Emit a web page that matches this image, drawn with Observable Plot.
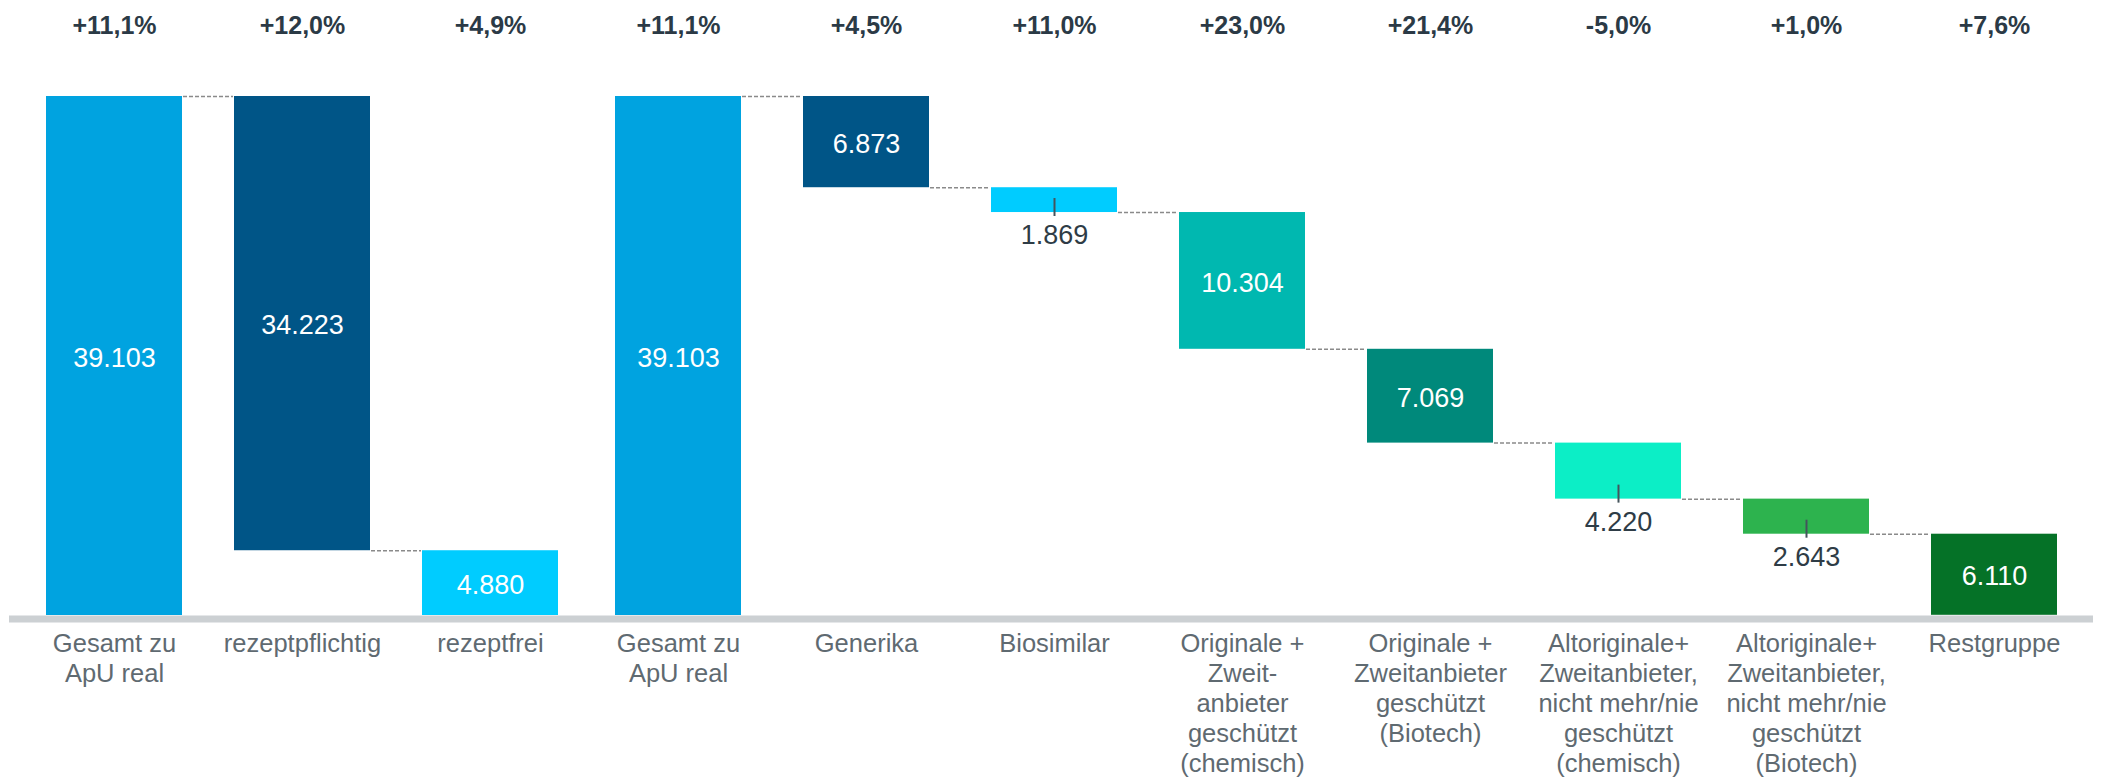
<!DOCTYPE html>
<html><head><meta charset="utf-8">
<script src="https://cdn.jsdelivr.net/npm/d3@7"></script>
<script src="https://cdn.jsdelivr.net/npm/@observablehq/plot@0.6"></script>
<style>html,body{margin:0;padding:0;background:#fff;}</style>
</head><body><div id="chart"></div>
<script>
const categories = [
  "Gesamt zu\nApU real",
  "rezeptpflichtig",
  "rezeptfrei",
  "Gesamt zu\nApU real",
  "Generika",
  "Biosimilar",
  "Originale +\nZweit-\nanbieter\ngeschützt\n(chemisch)",
  "Originale +\nZweitanbieter\ngeschützt\n(Biotech)",
  "Altoriginale+\nZweitanbieter,\nnicht mehr/nie\ngeschützt\n(chemisch)",
  "Altoriginale+\nZweitanbieter,\nnicht mehr/nie\ngeschützt\n(Biotech)",
  "Restgruppe"
];
const values = [39103, 34223, 4880, 39103, 6873, 1869, 10304, 7069, 4220, 2643, 6110];
const isTotal = [true, false, false, true, false, false, false, false, false, false, false];
const changes = ["+11,1%", "+12,0%", "+4,9%", "+11,1%", "+4,5%", "+11,0%", "+23,0%", "+21,4%", "-5,0%", "+1,0%", "+7,6%"];
const barColors = ["#00a3e0", "#005587", "#00ccff", "#00a3e0", "#005587", "#00ccff", "#00b8b0", "#00897b", "#0ceec6", "#2db34e", "#057227"];

const ids = categories.map((_, i) => "c" + i);
let running = 0;
const rows = categories.map((label, i) => {
  const v = values[i];
  let y1, y2;
  if (isTotal[i]) { y1 = 0; y2 = v; running = v; }
  else { y2 = running; y1 = running - v; running = y1; }
  return {idx: i, id: ids[i], label, value: v, y1, y2, change: changes[i], inside: v > 4500};
});
const conns = [];
for (let i = 0; i < rows.length - 1; i++) {
  const level = isTotal[i] ? rows[i].y2 : rows[i].y1;
  if (level > 100) conns.push({idx: i, from: ids[i], to: ids[i + 1], level});
}

const fmt = d3.formatLocale({decimal: ",", thousands: ".", grouping: [3], currency: ["", ""]}).format(",d");

const W = 2101, H = 781;
const margins = {marginTop: 96, marginBottom: 166, marginLeft: 46, marginRight: 38};
const xOpts = {type: "band", domain: ids, paddingInner: 0.328, paddingOuter: 0};
const bw = Plot.scale({x: {...xOpts, range: [margins.marginLeft, W - margins.marginRight]}}).bandwidth;
const wide = 5; // first group of bars is slightly wider
const connStyle = {x1: "from", x2: "to", y: "level", stroke: "#8a8a8a", strokeWidth: 1.5, strokeDasharray: "4,2"};

const chart = Plot.plot({
  width: W, height: H, ...margins,
  style: {fontFamily: "Liberation Sans, Arial, sans-serif", background: "white"},
  x: {...xOpts, axis: null},
  y: {domain: [0, 39103], axis: null},
  color: {type: "ordinal", domain: ids, range: barColors},
  marks: [
    Plot.ruleY(conns.filter(d => d.idx < 2), {...connStyle, insetLeft: bw + wide, insetRight: bw + wide}),
    Plot.ruleY(conns.filter(d => d.idx >= 2), {...connStyle, insetLeft: bw, insetRight: bw}),
    Plot.rectY(rows.filter(d => d.idx < 3), {x: "id", y1: "y1", y2: "y2", fill: "id", insetLeft: -wide, insetRight: -wide}),
    Plot.rectY(rows.filter(d => d.idx >= 3), {x: "id", y1: "y1", y2: "y2", fill: "id"}),
    Plot.ruleY([0], {stroke: "#ccd0d3", strokeWidth: 7, dy: 3.5, insetLeft: -37, insetRight: -30}),
    Plot.ruleX(rows.filter(d => !d.inside), {x: "id", y1: "y1", y2: "y1", insetTop: -14, insetBottom: -4, stroke: "#44545c", strokeWidth: 2}),
    Plot.text(rows.filter(d => d.inside), {x: "id", y: d => (d.y1 + d.y2) / 2, text: d => fmt(d.value), fill: "white", fontSize: 27, lineAnchor: "middle", dy: 2}),
    Plot.text(rows.filter(d => !d.inside), {x: "id", y: "y1", text: d => fmt(d.value), fill: "#2e3c46", fontSize: 27, lineAnchor: "top", dy: 12.5}),
    Plot.text(rows, {x: "id", frameAnchor: "top", text: "change", fontSize: 25, fontWeight: "bold", fill: "#2b3a46", lineAnchor: "bottom", dy: -63}),
    Plot.text(rows, {x: "id", frameAnchor: "bottom", text: "label", fontSize: 25.5, fill: "#5f6a71", lineAnchor: "top", lineHeight: 1.176, dy: 15.6})
  ]
});
document.getElementById("chart").appendChild(chart);
</script>
</body></html>
